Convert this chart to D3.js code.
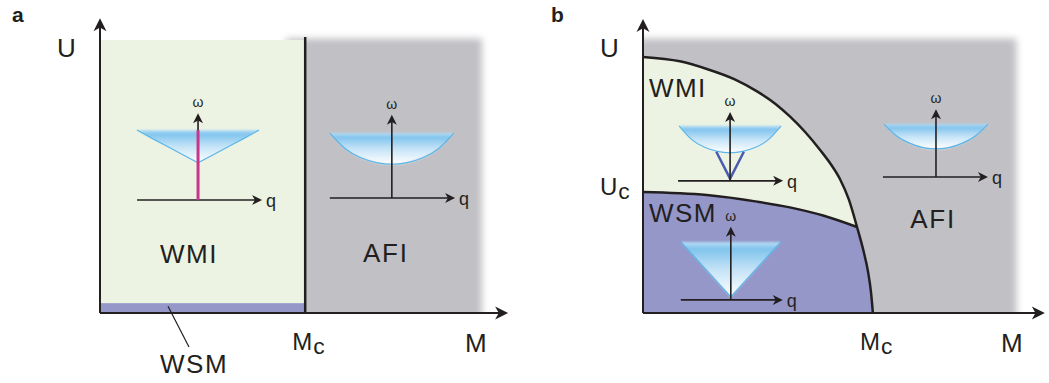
<!DOCTYPE html>
<html><head><meta charset="utf-8">
<script src="https://cdn.jsdelivr.net/npm/d3@7"></script>
<style>
body{margin:0;background:#fff}
text{font-family:"Liberation Sans",Arial,Helvetica,sans-serif;fill:#231f20}
</style>
</head><body>
<svg id="c" width="1049" height="383"></svg>
<script>
// ---------------- DATA ----------------
const panelLetters = ["a", "b"];
const axisNames = ["M", "U"];
const phaseNames = ["WMI", "AFI", "WSM"];
const criticalNames = ["M", "U"];   // with subscript "c"
// panel a : phase boundaries (normalised M, U)
const McA = 0.54;
const wsmStripA = 0.036;
// panel b : phase boundaries
const McB = 0.623;
const UcB = 0.443;
const outerBoundaryM = [0, 0.1, 0.173, 0.25, 0.309, 0.36, 0.398, 0.44, 0.48, 0.51, 0.534, 0.558, 0.58, 0.598, 0.61, 0.618, 0.623];
const outerBoundaryU = [0.938, 0.922, 0.894, 0.855, 0.812, 0.765, 0.720, 0.662, 0.597, 0.543, 0.490, 0.415, 0.315, 0.225, 0.150, 0.075, 0];
const innerBoundaryM = [0, 0.173, 0.309, 0.398, 0.488, 0.580];
const innerBoundaryU = [0.443, 0.432, 0.408, 0.387, 0.357, 0.315];
// dispersion insets (q normalised, omega normalised)
const qGrid = [-1, -0.75, -0.5, -0.25, 0, 0.25, 0.5, 0.75, 1];
const omegaGappedCone = [1, 0.88, 0.765, 0.647, 0.53, 0.647, 0.765, 0.88, 1];
const omegaAfiA = [1, 0.76, 0.62, 0.545, 0.52, 0.545, 0.62, 0.76, 1];
const omegaWmiB = [1, 0.75, 0.61, 0.535, 0.51, 0.535, 0.61, 0.75, 1];
const omegaAfiB = [1, 0.77, 0.635, 0.555, 0.53, 0.555, 0.635, 0.77, 1];
const omegaWeylCone = [1, 0.7625, 0.525, 0.2875, 0.05, 0.2875, 0.525, 0.7625, 1];
const qFlatBand = [0, 0];
const omegaFlatBand = [0, 1];
const qDirac = [-0.27, 0, 0.27];
const omegaDirac = [0.53, 0.04, 0.53];

// ---------------- LAYOUT ----------------
const svg = d3.select("#c");
const W = 1049, H = 383;
const xA = d3.scaleLinear([0, 1], [100, 480]);
const yA = d3.scaleLinear([0, 1], [313, 40]);
const xB = d3.scaleLinear([0, 1], [643, 1012]);
const yB = d3.scaleLinear([0, 1], [313, 40]);

const C = {green: "#edf3e2", purple: "#9597c9", gray: "#c0c0c5", ink: "#231f20",
           edge: "#5ab6ea", magenta: "#c8358a", dirac: "#4a5cb0"};

const defs = svg.append("defs");
const blur = defs.append("filter").attr("id", "blur")
  .attr("x", "-20%").attr("y", "-20%").attr("width", "140%").attr("height", "140%");
blur.append("feGaussianBlur").attr("stdDeviation", 3.5);
const grad = defs.append("linearGradient").attr("id", "band")
  .attr("x1", 0).attr("y1", 0).attr("x2", 0).attr("y2", 1);
[[0, "#b9def4"], [0.13, "#80c4ee"], [0.5, "#c4e3f7"], [1, "#ffffff"]]
  .forEach(([o, c]) => grad.append("stop").attr("offset", o).attr("stop-color", c));
const gBlur = defs.append("filter").attr("id", "soft")
  .attr("x", "-5%").attr("y", "-15%").attr("width", "110%").attr("height", "130%");
gBlur.append("feGaussianBlur").attr("stdDeviation", "0 0.8");

function arrow(g, x1, y1, x2, y2, L, Wd, sw) {
  const ang = Math.atan2(y2 - y1, x2 - x1), dx = Math.cos(ang), dy = Math.sin(ang);
  g.append("line").attr("x1", x1).attr("y1", y1)
    .attr("x2", x2 - dx * L * 0.6).attr("y2", y2 - dy * L * 0.6)
    .attr("stroke", C.ink).attr("stroke-width", sw);
  g.append("path").attr("d", `M0,0L${-L},${-Wd / 2}L${-L * 0.72},0L${-L},${Wd / 2}Z`)
    .attr("transform", `translate(${x2},${y2}) rotate(${ang * 180 / Math.PI})`)
    .attr("fill", C.ink);
}

function label(g, x, y, str, size, opts = {}) {
  const t = g.append("text").attr("x", x).attr("y", y).attr("font-size", size).text(str);
  if (opts.bold) t.attr("font-weight", "bold");
  if (opts.ls) t.attr("letter-spacing", opts.ls);
  if (opts.anchor) t.attr("text-anchor", opts.anchor);
  return t;
}
function subLabel(g, x, y, main, sub, size) {
  const t = g.append("text").attr("x", x).attr("y", y).attr("font-size", size);
  t.append("tspan").text(main);
  t.append("tspan").attr("dy", 4).attr("dx", 1).attr("font-size", size * 0.95).text(sub);
}

// inset: dispersion plot
function inset(g, cx, cy, cfg) {
  const gi = g.append("g").attr("transform", `translate(${cx},${cy})`);
  const qs = d3.scaleLinear([-1, 1], [-cfg.halfW, cfg.halfW]);
  const ws = d3.scaleLinear([0, 1], [0, -cfg.unitH]);
  const pts = qGrid.map((q, i) => [q, cfg.omega[i]]);
  const curve = cfg.smooth ? d3.curveNatural : d3.curveLinear;
  const area = d3.area().x(d => qs(d[0])).y0(ws(1)).y1(d => ws(d[1])).curve(curve);
  gi.append("path").attr("d", area(pts)).attr("fill", "url(#band)").attr("filter", "url(#soft)");
  const line = d3.line().x(d => qs(d[0])).y(d => ws(d[1])).curve(curve);
  gi.append("path").attr("d", line(pts)).attr("fill", "none")
    .attr("stroke", C.edge).attr("stroke-width", 1.2);
  if (cfg.extraBelow) cfg.extraBelow(gi, qs, ws);
  arrow(gi, qs(cfg.qAxis[0]), 0, qs(cfg.qAxis[1]), 0, 10, 10, 1.6);
  arrow(gi, 0, 0, 0, ws(cfg.wTop), 10, 10, 1.6);
  if (cfg.extraAbove) cfg.extraAbove(gi, qs, ws);
  gi.append("text").attr("x", 0).attr("y", ws(cfg.wTop) - 6).attr("text-anchor", "middle")
    .attr("font-family", "'Liberation Serif','DejaVu Serif',serif").attr("font-size", 14)
    .text("ω");
  label(gi, qs(cfg.qAxis[1]) + 4, 7, "q", 18);
}

// ---------------- PANEL A ----------------
const gA = svg.append("g");
defs.append("clipPath").attr("id", "clipA").append("rect")
  .attr("x", 0).attr("y", 0).attr("width", xA(1.2)).attr("height", yA(0));
gA.append("rect").attr("clip-path", "url(#clipA)")
  .attr("x", xA(McA - 0.05)).attr("y", yA(1.005))
  .attr("width", xA(1.005) - xA(McA - 0.05)).attr("height", yA(-0.1) - yA(1.005))
  .attr("fill", C.gray).attr("filter", "url(#blur)");
gA.append("rect").attr("x", xA(0)).attr("y", yA(1))
  .attr("width", xA(McA) - xA(0)).attr("height", yA(0) - yA(1)).attr("fill", C.green);
gA.append("rect").attr("x", xA(0)).attr("y", yA(wsmStripA))
  .attr("width", xA(McA) - xA(0)).attr("height", yA(0) - yA(wsmStripA)).attr("fill", C.purple);
gA.append("line").attr("x1", xA(McA)).attr("x2", xA(McA))
  .attr("y1", yA(1.011)).attr("y2", yA(0)).attr("stroke", C.ink).attr("stroke-width", 2.5);

inset(gA, xA(0.258), yA(0.414), {halfW: 61, unitH: 70, omega: omegaGappedCone, smooth: false,
  qAxis: [-1, 1.05], wTop: 1.24,
  extraAbove: (gi, qs, ws) => gi.append("path")
    .attr("d", d3.line().x(d => qs(d[0])).y(d => ws(d[1]))(qFlatBand.map((q, i) => [q, omegaFlatBand[i]])))
    .attr("stroke", C.magenta).attr("stroke-width", 3)});
inset(gA, xA(0.768), yA(0.421), {halfW: 62, unitH: 65, omega: omegaAfiA, smooth: true,
  qAxis: [-1, 1.02], wTop: 1.28});

arrow(gA, xA(0), yA(0), xA(0), yA(1.08), 13, 13, 2);
arrow(gA, xA(0), yA(0), xA(1.074), yA(0), 13, 13, 2);

label(gA, 12, 22, panelLetters[0], 21, {bold: true});
label(gA, 57, 57, axisNames[1], 26);
label(gA, xA(0.158), yA(0.183), phaseNames[0], 26, {ls: 1.5});
label(gA, xA(0.692), yA(0.187), phaseNames[1], 26, {ls: 1.8});
subLabel(gA, xA(McA) - 13, 350, criticalNames[0], "c", 24);
label(gA, 465, 352, axisNames[0], 26);
label(gA, 160, 373, phaseNames[2], 26, {ls: 1.5});
gA.append("line").attr("x1", xA(0.179)).attr("y1", yA(0.025))
  .attr("x2", 189).attr("y2", 347).attr("stroke", C.ink).attr("stroke-width", 1.2);

// ---------------- PANEL B ----------------
const gB = svg.append("g");
defs.append("clipPath").attr("id", "clipB").append("rect")
  .attr("x", xB(0)).attr("y", 0).attr("width", W - xB(0)).attr("height", yB(0));
gB.append("rect").attr("clip-path", "url(#clipB)")
  .attr("x", xB(-0.05)).attr("y", yB(1.005))
  .attr("width", xB(1.012) - xB(-0.05)).attr("height", yB(-0.1) - yB(1.005))
  .attr("fill", C.gray).attr("filter", "url(#blur)");

const outerPts = outerBoundaryM.map((m, i) => [m, outerBoundaryU[i]]);
const innerPts = innerBoundaryM.map((m, i) => [m, innerBoundaryU[i]]);
const bLine = d3.line().x(d => xB(d[0])).y(d => yB(d[1])).curve(d3.curveMonotoneX);
gB.append("path").attr("d", bLine(outerPts) + `L${xB(0)},${yB(0)}Z`).attr("fill", C.green);
const tail = outerPts.filter(d => d[0] >= innerBoundaryM[innerBoundaryM.length - 1]);
gB.append("path")
  .attr("d", bLine(innerPts) + bLine(tail).replace(/^M/, "L") + `L${xB(0)},${yB(0)}Z`)
  .attr("fill", C.purple);
gB.append("path").attr("d", bLine(outerPts)).attr("fill", "none")
  .attr("stroke", C.ink).attr("stroke-width", 2.5);
gB.append("path").attr("d", bLine(innerPts)).attr("fill", "none")
  .attr("stroke", C.ink).attr("stroke-width", 2.5);

inset(gB, xB(0.236), yB(0.484), {halfW: 51, unitH: 55, omega: omegaWmiB, smooth: true,
  qAxis: [-1.02, 1.04], wTop: 1.25,
  extraBelow: (gi, qs, ws) => gi.append("path")
    .attr("d", d3.line().x(d => qs(d[0])).y(d => ws(d[1]))(qDirac.map((q, i) => [q, omegaDirac[i]])))
    .attr("fill", "none").attr("stroke", C.dirac).attr("stroke-width", 2.5)});
inset(gB, xB(0.238), yB(0.048), {halfW: 50, unitH: 58, omega: omegaWeylCone, smooth: false,
  qAxis: [-1, 1.04], wTop: 1.26});
inset(gB, xB(0.794), yB(0.498), {halfW: 52, unitH: 53, omega: omegaAfiB, smooth: true,
  qAxis: [-1.02, 1.0], wTop: 1.28});

arrow(gB, xB(0), yB(0), xB(0), yB(1.077), 13, 13, 2);
arrow(gB, xB(0), yB(0), xB(1.089), yB(0), 13, 13, 2);

label(gB, 551, 22, panelLetters[1], 21, {bold: true});
label(gB, 600, 57, axisNames[1], 26);
subLabel(gB, 600, yB(UcB) + 3, criticalNames[1], "c", 24);
label(gB, xB(0.016), yB(0.79), phaseNames[0], 26, {ls: 1.5});
label(gB, xB(0.016), yB(0.333), phaseNames[2], 26, {ls: 1.5});
label(gB, xB(0.724), yB(0.311), phaseNames[1], 26, {ls: 1.8});
subLabel(gB, xB(McB) - 13, 350, criticalNames[0], "c", 24);
label(gB, 1001, 352, axisNames[0], 26);
</script>
</body></html>
